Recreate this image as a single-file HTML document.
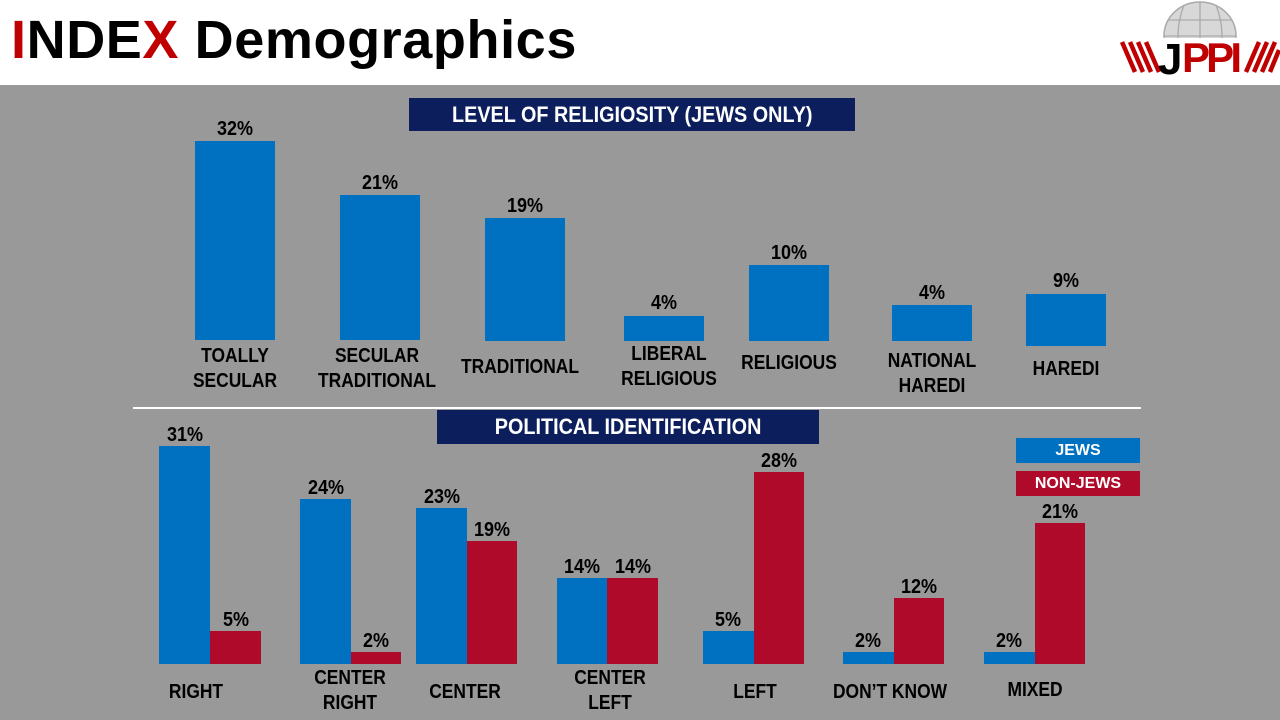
<!DOCTYPE html>
<html><head><meta charset="utf-8"><style>
*{margin:0;padding:0;box-sizing:border-box}
body{width:1280px;height:720px;position:relative;background:#999;overflow:hidden;font-family:"Liberation Sans",sans-serif;font-weight:bold}
.hdr{position:absolute;left:0;top:0;width:1280px;height:85px;background:#fff}
.title{position:absolute;left:11px;top:9px;font-family:"Liberation Sans",sans-serif;font-size:54px;font-weight:bold;color:#000;letter-spacing:0.6px}
.r{color:#c00000}
.b{position:absolute;background:#0070c0}
.d{position:absolute;background:#b00a2a}
.v{position:absolute;font-size:20px;color:#000;text-align:center;width:80px;line-height:22px;transform:scaleX(.9)}
.l{position:absolute;font-size:20px;color:#000;text-align:center;line-height:25px;white-space:nowrap;transform:scaleX(.87)}
.box{position:absolute;background:#0c1f5c;color:#fff;font-size:22px;text-align:center;line-height:34px}
.box span{display:inline-block;transform:scaleX(.9)}
.lg{position:absolute;color:#fff;font-size:16px;text-align:center;line-height:25px;width:124px;left:1016px;height:25px}
</style></head><body>
<div class="hdr"></div>
<div class="title"><span class="r">I</span>NDE<span class="r">X</span> Demographics</div>
<svg style="position:absolute;left:1118px;top:0px" width="162" height="85" viewBox="0 0 162 85">
<ellipse cx="82" cy="36" rx="36" ry="34" fill="#d8d8d8" stroke="#aaa" stroke-width="1.5"/>
<path d="M46 36h72M50 20h64M50 52h64M82 2v68M66 5q-12 31 0 62M98 5q12 31 0 62" stroke="#aaa" fill="none" stroke-width="1.3"/>
<rect x="40" y="38" width="86" height="45" fill="#fff"/>
<g stroke="#c00000" stroke-width="4.5"><path d="M4 42l13 30M12 42l13 30M20 42l13 30M28 42l13 30M128 72l13-30M136 72l13-30M144 72l13-30M152 72l9-22"/></g>
<text x="40" y="74" font-family="Liberation Sans,sans-serif" font-weight="bold" font-size="44" fill="#000">J</text>
<text x="64" y="72" font-family="Liberation Sans,sans-serif" font-weight="bold" font-size="42" fill="#c00000" textLength="60">PPI</text>
</svg>

<div class="box" style="left:409px;top:98px;width:446px;height:33px"><span>LEVEL OF RELIGIOSITY (JEWS ONLY)</span></div>
<div class="b" style="left:195px;top:141px;width:80px;height:199px"></div><div class="v" style="left:195px;top:118px">32%</div>
<div class="b" style="left:340px;top:195px;width:80px;height:145px"></div><div class="v" style="left:340px;top:172px">21%</div>
<div class="b" style="left:485px;top:218px;width:80px;height:123px"></div><div class="v" style="left:485px;top:195px">19%</div>
<div class="b" style="left:624px;top:316px;width:80px;height:25px"></div><div class="v" style="left:624px;top:292px">4%</div>
<div class="b" style="left:749px;top:265px;width:80px;height:76px"></div><div class="v" style="left:749px;top:242px">10%</div>
<div class="b" style="left:892px;top:305px;width:80px;height:36px"></div><div class="v" style="left:892px;top:282px">4%</div>
<div class="b" style="left:1026px;top:294px;width:80px;height:52px"></div><div class="v" style="left:1026px;top:270px">9%</div>
<div class="l" style="left:175px;top:344px;width:120px">TOALLY<br>SECULAR</div>
<div class="l" style="left:307px;top:344px;width:140px">SECULAR<br>TRADITIONAL</div>
<div class="l" style="left:445px;top:355px;width:150px">TRADITIONAL</div>
<div class="l" style="left:609px;top:342px;width:120px">LIBERAL<br>RELIGIOUS</div>
<div class="l" style="left:729px;top:351px;width:120px">RELIGIOUS</div>
<div class="l" style="left:872px;top:349px;width:120px">NATIONAL<br>HAREDI</div>
<div class="l" style="left:1006px;top:357px;width:120px">HAREDI</div>

<div style="position:absolute;left:133px;top:407px;width:1008px;height:2px;background:#fff"></div>
<div class="box" style="left:437px;top:410px;width:382px;height:34px"><span>POLITICAL IDENTIFICATION</span></div>
<div class="lg" style="top:438px;background:#0070c0">JEWS</div>
<div class="lg" style="top:471px;background:#b00a2a">NON-JEWS</div>

<div class="b" style="left:159px;top:446px;width:51px;height:218px"></div><div class="v" style="left:145px;top:424px">31%</div>
<div class="d" style="left:210px;top:631px;width:51px;height:33px"></div><div class="v" style="left:196px;top:609px">5%</div>
<div class="b" style="left:300px;top:499px;width:51px;height:165px"></div><div class="v" style="left:286px;top:477px">24%</div>
<div class="d" style="left:351px;top:652px;width:50px;height:12px"></div><div class="v" style="left:336px;top:630px">2%</div>
<div class="b" style="left:416px;top:508px;width:51px;height:156px"></div><div class="v" style="left:402px;top:486px">23%</div>
<div class="d" style="left:467px;top:541px;width:50px;height:123px"></div><div class="v" style="left:452px;top:519px">19%</div>
<div class="b" style="left:557px;top:578px;width:50px;height:86px"></div><div class="v" style="left:542px;top:556px">14%</div>
<div class="d" style="left:607px;top:578px;width:51px;height:86px"></div><div class="v" style="left:593px;top:556px">14%</div>
<div class="b" style="left:703px;top:631px;width:51px;height:33px"></div><div class="v" style="left:688px;top:609px">5%</div>
<div class="d" style="left:754px;top:472px;width:50px;height:192px"></div><div class="v" style="left:739px;top:450px">28%</div>
<div class="b" style="left:843px;top:652px;width:51px;height:12px"></div><div class="v" style="left:828px;top:630px">2%</div>
<div class="d" style="left:894px;top:598px;width:50px;height:66px"></div><div class="v" style="left:879px;top:576px">12%</div>
<div class="b" style="left:984px;top:652px;width:51px;height:12px"></div><div class="v" style="left:969px;top:630px">2%</div>
<div class="d" style="left:1035px;top:523px;width:50px;height:141px"></div><div class="v" style="left:1020px;top:501px">21%</div>
<div class="l" style="left:136px;top:680px;width:120px">RIGHT</div>
<div class="l" style="left:290px;top:666px;width:120px">CENTER<br>RIGHT</div>
<div class="l" style="left:405px;top:680px;width:120px">CENTER</div>
<div class="l" style="left:550px;top:666px;width:120px">CENTER<br>LEFT</div>
<div class="l" style="left:695px;top:680px;width:120px">LEFT</div>
<div class="l" style="left:815px;top:680px;width:150px">DON’T KNOW</div>
<div class="l" style="left:975px;top:678px;width:120px">MIXED</div>
</body></html>
